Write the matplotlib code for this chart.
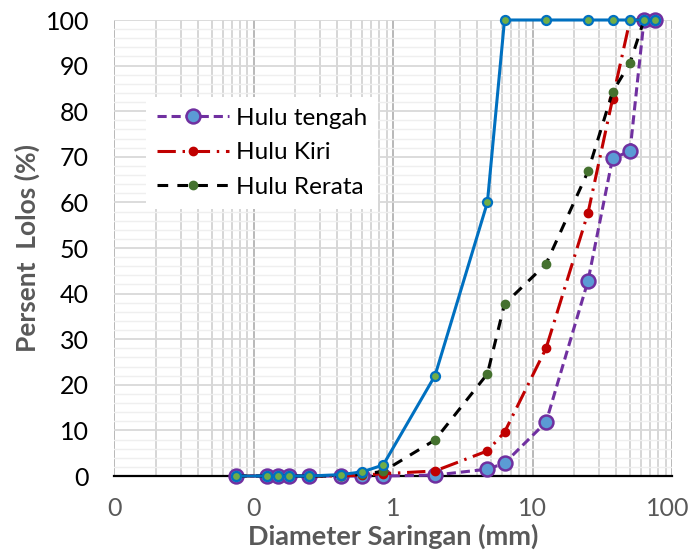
import matplotlib
matplotlib.use("Agg")
import matplotlib.pyplot as plt
from matplotlib.ticker import FixedLocator, NullFormatter
from matplotlib.transforms import ScaledTranslation

plt.rcParams['font.family'] = ['Lato', 'DejaVu Sans']

# ---- data ----
sizes = [0.075, 0.125, 0.15, 0.18, 0.25, 0.425, 0.6, 0.85, 2.0, 4.75, 6.3, 12.5, 25, 37.5, 50, 63, 75]
hulu_utama = [0, 0, 0, 0, 0, 0.3, 0.9, 2.4, 22.0, 60.0, 100, 100, 100, 100, 100, 100, 100]
hulu_tengah = [0, 0, 0, 0, 0, 0, 0, 0, 0.2, 1.5, 2.8, 11.8, 42.8, 69.7, 71.2, 100, 100]
hulu_kiri = [0, 0, 0, 0, 0, 0, 0.2, 0.5, 1.1, 5.5, 9.6, 28.0, 57.7, 82.7, 100, 100, 100]
hulu_rerata = [0, 0, 0, 0, 0, 0, 0.4, 1.0, 7.9, 22.4, 37.7, 46.5, 66.8, 84.2, 90.6, 100, 100]

labels = ['Hulu tengah', 'Hulu Kiri', 'Hulu Rerata']
x_ticks = [0.01, 0.1, 1, 10, 100]
x_tick_labels = ['0', '0', '1', '10', '100']
y_ticks = list(range(0, 101, 10))

fig = plt.figure(figsize=(6.92, 5.55), dpi=100)
ax = fig.add_axes([114/692, 1-476/555, (672-114)/692, (476-20)/555])

ax.set_xscale('log')
ax.set_xlim(0.01, 100)
ax.set_ylim(0, 100)

# grid
minor_x = [m * 10.0**e for e in range(-2, 2) for m in range(2, 10)]
ax.set_xticks(x_ticks, labels=x_tick_labels)
ax.xaxis.set_minor_locator(FixedLocator(minor_x))
ax.xaxis.set_minor_formatter(NullFormatter())
ax.set_yticks(y_ticks, labels=[str(v) for v in y_ticks])
ax.yaxis.set_minor_locator(FixedLocator([v for v in range(0, 101, 2) if v % 10]))
ax.grid(True, which='major', axis='x', color='#A6A6A6', linewidth=1.1)
ax.grid(True, which='minor', axis='x', color='#CCCCCC', linewidth=1.1)
ax.grid(True, which='major', axis='y', color='#D9D9D9', linewidth=1.3)
ax.grid(True, which='minor', axis='y', color='#EFEFEF', linewidth=1.0)
ax.set_axisbelow(True)

for s in ['top', 'right', 'left']:
    ax.spines[s].set_visible(False)
ax.spines['bottom'].set_color('black')
ax.spines['bottom'].set_linewidth(1.6)

ax.tick_params(axis='both', which='both', length=0)
ax.tick_params(axis='x', pad=15, labelsize=18, labelcolor='#595959')
ax.tick_params(axis='y', pad=18, labelsize=18, labelcolor='black')

# keep the last x label inside the figure, as the reference does
last = ax.get_xticklabels()[-1]
last.set_transform(last.get_transform() + ScaledTranslation(-4/100, 0, fig.dpi_scale_trans))

# series
ax.plot(sizes, hulu_tengah, color='#7030A0', linewidth=2.2, dashes=(3, 1.6),
        marker='o', markersize=10, markerfacecolor='#5B9BD5', markeredgecolor='#7030A0',
        markeredgewidth=1.8, clip_on=False, zorder=3, label=labels[0])
ax.plot(sizes, hulu_kiri, color='#C00000', linewidth=2.2, dashes=(6, 2.2, 0.8, 2.2),
        marker='o', markersize=6, markerfacecolor='#C00000', markeredgecolor='#C00000',
        clip_on=False, zorder=4, label=labels[1])
ax.plot(sizes, hulu_rerata, color='black', linewidth=2.2, dashes=(3.5, 3),
        marker='o', markersize=6, markerfacecolor='#44712E', markeredgecolor='#44712E',
        clip_on=False, zorder=5, label=labels[2])
ax.plot(sizes, hulu_utama, color='#0070C0', linewidth=2.2,
        marker='o', markersize=6.5, markerfacecolor='#70AD47', markeredgecolor='#0070C0',
        markeredgewidth=1.6, clip_on=False, zorder=6)

handles, labs = ax.get_legend_handles_labels()
leg = fig.legend(handles, labs, loc='upper left',
                 bbox_to_anchor=(146/692, 1-97/555), bbox_transform=fig.transFigure,
                 frameon=True, fancybox=False, edgecolor='none', facecolor='white',
                 framealpha=1, fontsize=17.5, handlelength=2.95, numpoints=1,
                 labelspacing=0.55, handletextpad=0.3, borderpad=0.45, borderaxespad=0)
leg.set_zorder(10)

ax.set_xlabel('Diameter Saringan (mm)', fontsize=19.5, fontweight='bold', color='#595959', labelpad=3)
ax.set_ylabel('Persent  Lolos (%)', fontsize=19, fontweight='bold', color='#595959', labelpad=4)

fig.savefig('out.png', dpi=100)
